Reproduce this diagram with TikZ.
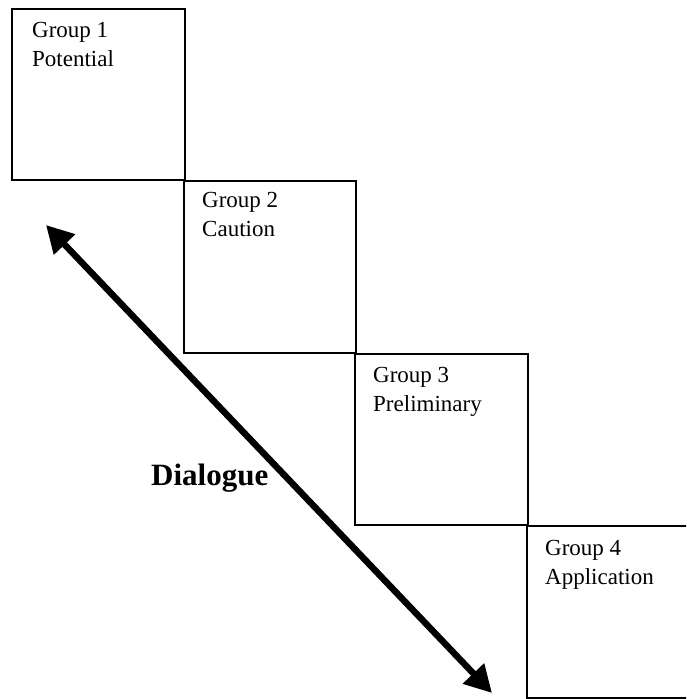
\documentclass[tikz,border=0pt]{standalone}
\usepackage{fontspec}
\setmainfont{Liberation Serif}
\usetikzlibrary{arrows.meta}
\begin{document}
\begin{tikzpicture}[x=1pt,y=-1pt,
  grp/.style={draw=black,line width=1.6pt,minimum width=#1,minimum height=172pt,anchor=north west,inner sep=0pt},
  grp/.default=172pt,
  lbl/.style={anchor=base west,inner sep=0pt,align=left,font=\fontsize{23}{29}\selectfont},
  dlg/.style={anchor=base west,inner sep=0pt,font=\fontsize{31}{36}\selectfont\bfseries},
  dual/.style={line width=6.5pt,{Triangle[length=27pt,width=28pt]}-{Triangle[length=27pt,width=28pt]}}]
\useasboundingbox (0,0) rectangle (686,699);
\begin{scope}
\clip (0,0) rectangle (686,699);
\node[grp=173pt,minimum height=171pt] (g1) at (11,8) {};
\node[grp] (g2) at (183,180) {};
\node[grp=173pt,minimum height=171pt] (g3) at (354,353) {};
\node[grp=173pt] (g4) at (526,525) {};
\end{scope}
\node[lbl] (t1) at (32,66) {Group 1\\Potential};
\node[lbl] (t2) at (202,236) {Group 2\\Caution};
\node[lbl] (t3) at (373,411) {Group 3\\Preliminary};
\node[lbl] (t4) at (545,584) {Group 4\\Application};
\node[dlg] (d) at (151,485) {Dialogue};
\coordinate (a1) at (46,225);
\coordinate (a2) at (492,693);
\draw[dual] (a1) -- (a2);
\end{tikzpicture}
\end{document}
